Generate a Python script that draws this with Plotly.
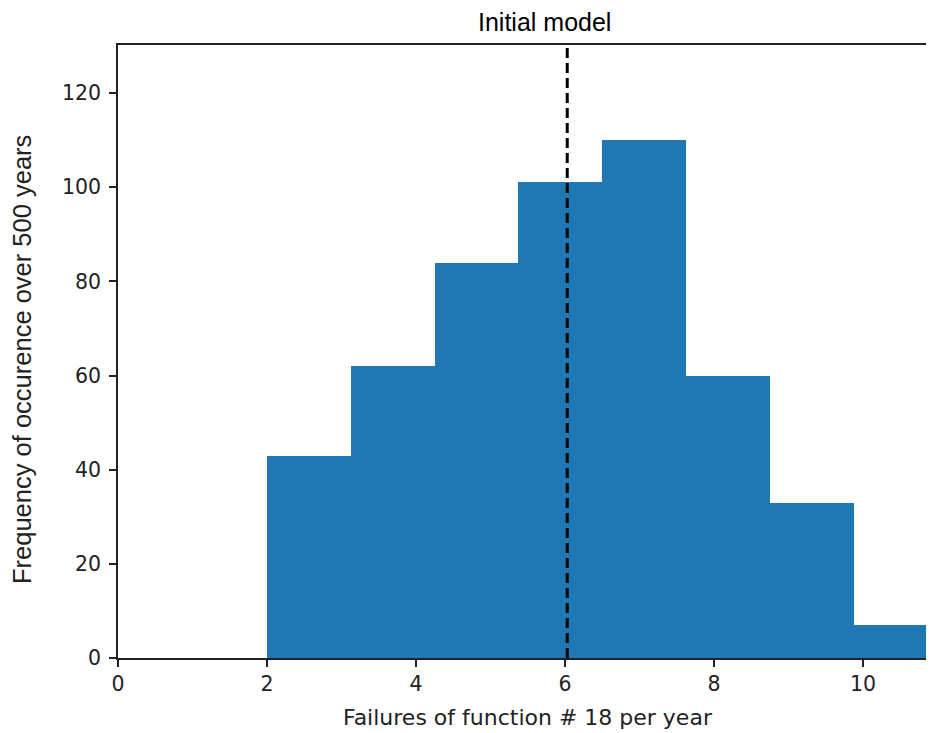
import plotly.graph_objects as go

# Data
bin_edges = [2.0, 3.125, 4.25, 5.375, 6.5, 7.625, 8.75, 9.875, 11.0]
counts = [43, 62, 84, 101, 110, 60, 33, 7]
initial_value = 6.03
x_ticks = [0, 2, 4, 6, 8, 10]
y_ticks = [0, 20, 40, 60, 80, 100, 120]

title_text = "Initial model"
x_label = "Failures of function # 18 per year"
y_label = "Frequency of occurence over 500 years"

centers = [(a + b) / 2 for a, b in zip(bin_edges[:-1], bin_edges[1:])]
widths = [b - a for a, b in zip(bin_edges[:-1], bin_edges[1:])]

# page has an 8px body margin; compensate
OFF = 8
W, H = 934 - OFF, 733 - OFF
ml, mr, mt, mb = 118 - OFF, 0, 45 - OFF, 75
pw, ph = W - ml - mr, H - mt - mb
x_max = pw / 74.5

def px(xp):
    return (xp - OFF - ml) / pw

def py(yp):
    return (H - mb - (yp - OFF)) / ph

fig = go.Figure()
fig.add_trace(go.Bar(x=centers, y=counts, width=widths,
                     marker=dict(color="#1f77b4", line=dict(width=0)),
                     showlegend=False, hoverinfo="skip"))

fig.add_shape(type="line", xref="x", yref="paper", x0=initial_value, x1=initial_value,
              y0=0, y1=1, line=dict(color="black", width=3, dash="10px,5px"), layer="above")

tick_font = dict(family="DejaVu Sans", size=20.5, color="#222")
fig.update_xaxes(range=[0, x_max], tickvals=x_ticks, ticks="outside", ticklen=7, tickwidth=1.5,
                 tickcolor="#222", showline=True, linecolor="#222", linewidth=1.5, mirror=True,
                 showgrid=False, zeroline=False, tickfont=tick_font)
fig.update_yaxes(range=[0, 130.2], tickvals=y_ticks, ticks="outside", ticklen=7, tickwidth=1.5,
                 tickcolor="#222", showline=True, linecolor="#222", linewidth=1.5, mirror=False,
                 showgrid=False, zeroline=False, tickfont=tick_font, ticklabelstandoff=4)

fig.add_annotation(text=title_text, xref="paper", yref="paper", x=px(544), y=py(22),
                   xanchor="center", yanchor="middle", showarrow=False,
                   font=dict(family="Liberation Sans", size=25, color="black"))
fig.add_annotation(text=x_label, xref="paper", yref="paper", x=px(528), y=py(717),
                   xanchor="center", yanchor="middle", showarrow=False,
                   font=dict(family="DejaVu Sans", size=22, color="#222"))
fig.add_annotation(text=y_label, xref="paper", yref="paper", x=px(22), y=py(360),
                   xanchor="center", yanchor="middle", showarrow=False, textangle=-90,
                   font=dict(family="Liberation Sans", size=25.5, color="#222"))

fig.update_layout(width=W, height=H, margin=dict(l=ml, r=mr, t=mt, b=mb),
                  plot_bgcolor="white", paper_bgcolor="white", bargap=0)

fig.write_html("out.html")
